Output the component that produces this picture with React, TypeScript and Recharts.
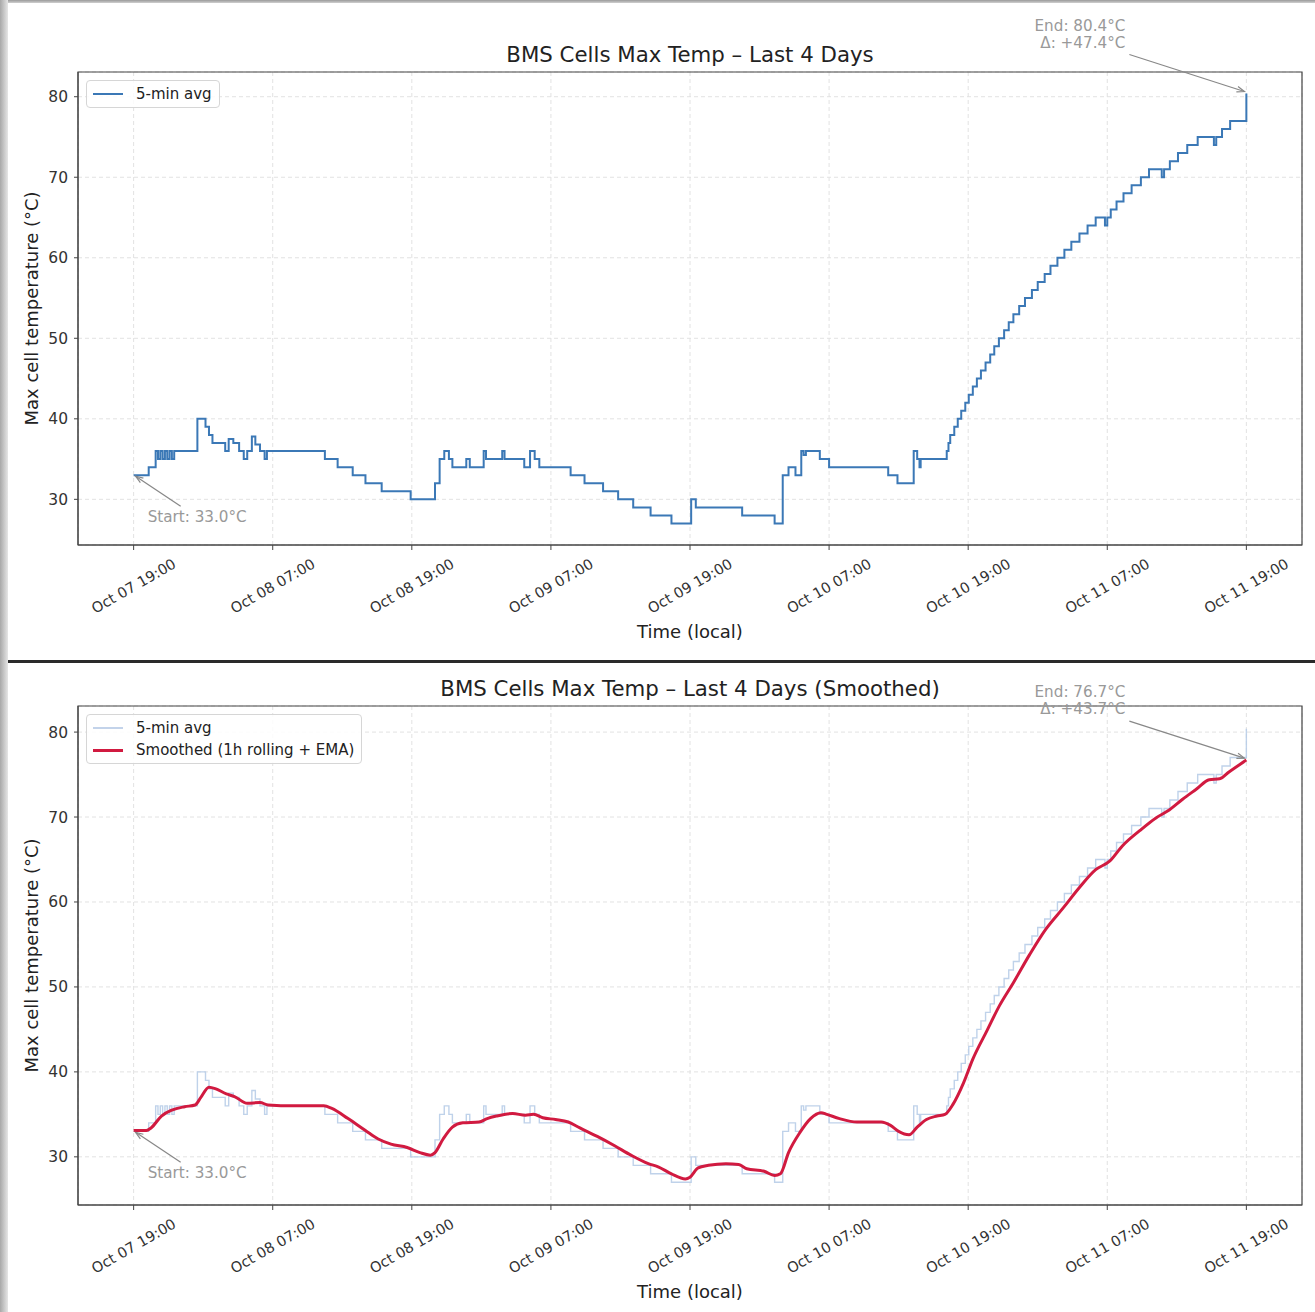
import React from 'react';
import { LineChart, Line, XAxis, YAxis, CartesianGrid, ReferenceArea, ReferenceDot, Legend, Label } from 'recharts';

// hours since Oct 07 19:00, 5-min avg (step change points)
const rawHours = [
  0, 1.3, 1.9, 2.1, 2.3, 2.5, 2.7, 2.9, 3.1, 3.3, 3.5, 5.5, 6.2, 6.5, 6.8, 7.9, 8.2, 8.6, 9.1, 9.5, 9.8, 10.2, 10.5, 10.9, 11.3, 11.5,
  16.5, 17.6, 18.9, 20.0, 21.4, 23.9, 26.0, 26.4, 26.8, 27.2, 27.5, 28.7, 29.0, 30.2, 30.4, 31.8, 32.0, 33.7, 34.2, 34.6, 35.0,
  37.7, 38.9, 40.5, 41.8, 43.1, 44.6, 46.4, 48.1, 48.5, 52.5, 55.3, 56.0, 56.5, 57.1, 57.6, 57.8, 58.0, 59.2, 60.0, 65.1, 65.9,
  67.3, 67.6, 67.8, 67.9, 70.15, 70.3, 70.45, 70.8, 71.1, 71.4, 71.75, 72.05, 72.4, 72.75, 73.1, 73.5, 73.9, 74.25, 74.65, 75.1,
  75.5, 75.9, 76.4, 76.9, 77.5, 78.0, 78.6, 79.1, 79.7, 80.3, 80.9, 81.6, 82.3, 83.0, 83.8, 84.0, 84.3, 84.8, 85.4, 86.1, 86.9,
  87.6, 88.7, 88.9, 89.4, 90.1, 90.9, 91.8, 93.2, 93.4, 93.9, 94.6, 96.0,
];
const rawTemps = [
  33, 34, 36, 35, 36, 35, 36, 35, 36, 35, 36, 40, 39, 38, 37, 36, 37.5, 37, 36, 35, 36, 37.8, 36.8, 36, 35, 36,
  35, 34, 33, 32, 31, 30, 32, 35, 36, 35, 34, 35, 34, 36, 35, 36, 35, 34, 36, 35, 34,
  33, 32, 31, 30, 29, 28, 27, 30, 29, 28, 27, 33, 34, 33, 36, 35.5, 36, 35, 34, 33, 32,
  36, 35, 34, 35, 36, 37, 38, 39, 40, 41, 42, 43, 44, 45, 46, 47, 48, 49, 50, 51,
  52, 53, 54, 55, 56, 57, 58, 59, 60, 61, 62, 63, 64, 65, 64, 65, 66, 67, 68, 69, 70,
  71, 70, 71, 72, 73, 74, 75, 74, 75, 76, 77, 80.4,
];

// smoothed (1h rolling + EMA)
const smoothHours = [
  0, 1.1, 1.5, 2.4, 3.3, 4.4, 5.3, 5.8, 6.5, 7.1, 8.0, 8.7, 9.8, 10.9, 11.6, 13.8, 16.4, 17.1, 18.5, 20.0, 21.1, 22.2, 23.6,
  24.7, 25.6, 26.0, 26.7, 27.5, 28.4, 29.8, 30.5, 31.3, 32.7, 33.8, 34.5, 35.3, 36.4, 37.5, 38.5, 40.0, 41.5, 42.9, 44.4, 45.3,
  46.4, 47.6, 48.0, 48.7, 49.6, 51.1, 52.2, 52.9, 54.4, 55.3, 55.8, 56.5, 57.5, 58.4, 59.3, 59.8, 60.9, 62.4, 64.5, 65.3, 66.0,
  66.9, 67.6, 68.4, 69.3, 70.0, 70.7, 71.6, 72.4, 73.6, 74.7, 75.9, 77.3, 78.7, 80.2, 81.6, 83.0, 84.2, 85.3, 86.8, 88.2, 89.2,
  90.5, 91.7, 92.8, 93.7, 94.5, 96.0,
];
const smoothTemps = [
  33.1, 33.1, 33.4, 34.8, 35.5, 35.9, 36.1, 37.0, 38.2, 38.0, 37.4, 37.1, 36.3, 36.4, 36.1, 36.0, 36.0, 35.7, 34.5, 33.1, 32.1, 31.5, 31.1,
  30.5, 30.2, 30.5, 32.1, 33.5, 34.0, 34.1, 34.5, 34.8, 35.1, 34.9, 35.0, 34.6, 34.4, 34.1, 33.4, 32.4, 31.3, 30.2, 29.2, 28.8,
  28.0, 27.4, 27.6, 28.7, 29.0, 29.2, 29.1, 28.6, 28.3, 27.8, 28.0, 30.5, 32.9, 34.5, 35.2, 35.0, 34.5, 34.1, 34.1, 33.7, 33.0,
  32.6, 33.5, 34.4, 34.8, 35.0, 36.2, 38.7, 41.5, 44.8, 47.8, 50.5, 53.8, 56.8, 59.3, 61.7, 63.8, 64.8, 66.6, 68.4, 69.9, 70.7,
  72.1, 73.3, 74.4, 74.5, 75.3, 76.7,
];

const tickHours = [0, 12, 24, 36, 48, 60, 72, 84, 96];
const tickLabels = ['Oct 07 19:00', 'Oct 08 07:00', 'Oct 08 19:00', 'Oct 09 07:00', 'Oct 09 19:00', 'Oct 10 07:00', 'Oct 10 19:00', 'Oct 11 07:00', 'Oct 11 19:00'];
const yTicks = [30, 40, 50, 60, 70, 80];

const X_DOMAIN: [number, number] = [-4.8, 100.8];
const Y_DOMAIN: [number, number] = [24.33, 83.07];
const FONT = '"DejaVu Sans", Verdana, sans-serif';

const rawData = rawHours.map((h, i) => ({ h, t: rawTemps[i] }));
const smoothData = smoothHours.map((h, i) => ({ h, t: smoothTemps[i] }));
const startTemp = rawTemps[0];

const TimeTick = (props: any) => {
  const { x, y, payload } = props;
  const label = tickLabels[tickHours.indexOf(payload.value)];
  return (
    <g transform={`translate(${x},${y + 33})`}>
      <text transform="rotate(-30)" textAnchor="middle" dy="0.35em" fontSize={14.5} fill="#333" fontFamily={FONT}>
        {label}
      </text>
    </g>
  );
};

const Arrow = ({ x1, y1, x2, y2 }: { x1: number; y1: number; x2: number; y2: number }) => {
  const a = Math.atan2(y2 - y1, x2 - x1);
  const L = 8;
  const p1 = `${x2 - L * Math.cos(a - 0.35)},${y2 - L * Math.sin(a - 0.35)}`;
  const p2 = `${x2 - L * Math.cos(a + 0.35)},${y2 - L * Math.sin(a + 0.35)}`;
  return (
    <g>
      <line x1={x1} y1={y1} x2={x2} y2={y2} stroke="#888" strokeWidth={1.2} />
      <polyline points={`${p1} ${x2},${y2} ${p2}`} fill="none" stroke="#888" strokeWidth={1.2} />
    </g>
  );
};

const startNote = (props: any) => {
  const { cx, cy } = props;
  return (
    <g>
      <Arrow x1={cx + 47} y1={cy + 31} x2={cx + 2} y2={cy + 1} />
      <text x={cx + 14} y={cy + 41} dy="0.35em" fontSize={15.2} fill="#999" fontFamily={FONT}>
        Start: {startTemp.toFixed(1)}°C
      </text>
    </g>
  );
};

const makeEndNote = (value: number) => (props: any) => {
  const { cx, cy } = props;
  const delta = value - startTemp;
  return (
    <g>
      <Arrow x1={cx - 117} y1={cy - 39} x2={cx - 2} y2={cy - 2} />
      <text x={cx - 121} y={cy - 68} dy="0.35em" textAnchor="end" fontSize={15.2} fill="#999" fontFamily={FONT}>
        End: {value.toFixed(1)}°C
      </text>
      <text x={cx - 121} y={cy - 51} dy="0.35em" textAnchor="end" fontSize={15.2} fill="#999" fontFamily={FONT}>
        Δ: +{delta.toFixed(1)}°C
      </text>
    </g>
  );
};

const yLabel = (props: any) => {
  const { viewBox } = props;
  const cx = viewBox.x + 32;
  const cy = viewBox.y + viewBox.height / 2;
  return (
    <text x={cx} y={cy} transform={`rotate(-90 ${cx} ${cy})`} textAnchor="middle" dy="0.35em" fontSize={18} fill="#222" fontFamily={FONT}>
      Max cell temperature (°C)
    </text>
  );
};

const xLabel = (props: any) => {
  const { viewBox } = props;
  const cx = viewBox.x + viewBox.width / 2;
  return (
    <text x={cx} y={viewBox.y + 87} textAnchor="middle" dy="0.35em" fontSize={18} fill="#222" fontFamily={FONT}>
      Time (local)
    </text>
  );
};

interface LegendItem {
  name: string;
  color: string;
  width: number;
}

const LegendBox = ({ items }: { items: LegendItem[] }) => (
  <div
    style={{
      border: '1px solid #d6d6d6',
      borderRadius: 4,
      background: 'rgba(255,255,255,0.85)',
      padding: '2px 7px 2px 6px',
      fontFamily: FONT,
      fontSize: 15,
      color: '#222',
    }}
  >
    {items.map(it => (
      <div key={it.name} style={{ display: 'flex', alignItems: 'center', height: 22 }}>
        <div style={{ width: 30, height: it.width, background: it.color, marginRight: 13 }} />
        <span style={{ whiteSpace: 'nowrap' }}>{it.name}</span>
      </div>
    ))}
  </div>
);

interface PanelProps {
  title: string;
  height: number;
  plotTop: number;
  xAxisHeight: number;
  smoothed: boolean;
}

const Panel = ({ title, height, plotTop, xAxisHeight, smoothed }: PanelProps) => {
  const endValue = smoothed ? smoothTemps[smoothTemps.length - 1] : rawTemps[rawTemps.length - 1];
  const legendItems: LegendItem[] = smoothed
    ? [
        { name: '5-min avg', color: '#c3d3ea', width: 2 },
        { name: 'Smoothed (1h rolling + EMA)', color: '#D11A40', width: 3 },
      ]
    : [{ name: '5-min avg', color: '#3B78B6', width: 2 }];

  return (
    <div style={{ position: 'relative', width: 1315, height }}>
      <div
        style={{
          position: 'absolute',
          left: 78,
          width: 1224,
          top: plotTop - 30,
          height: 26,
          lineHeight: '26px',
          textAlign: 'center',
          fontFamily: FONT,
          fontSize: 21.3,
          color: '#222',
        }}
      >
        {title}
      </div>
      <LineChart width={1315} height={height} margin={{ top: plotTop, right: 13, bottom: 0, left: 0 }}>
        <CartesianGrid stroke="#e2e2e2" strokeDasharray="4 3" />
        <XAxis
          dataKey="h"
          type="number"
          domain={X_DOMAIN}
          ticks={tickHours}
          allowDataOverflow
          height={xAxisHeight}
          tick={<TimeTick />}
          tickSize={5}
          tickMargin={3}
          stroke="#444"
        >
          <Label content={xLabel} />
        </XAxis>
        <YAxis
          type="number"
          domain={Y_DOMAIN}
          ticks={yTicks}
          allowDataOverflow
          width={78}
          tickSize={4}
          tickMargin={6}
          stroke="#444"
          tick={{ fontSize: 15.5, fill: '#333', fontFamily: FONT }}
        >
          <Label content={yLabel} />
        </YAxis>
        <ReferenceArea x1={X_DOMAIN[0]} x2={X_DOMAIN[1]} y1={Y_DOMAIN[0]} y2={Y_DOMAIN[1]} fill="none" stroke="#444" strokeWidth={1.2} />
        <Legend
          verticalAlign="middle"
          layout="horizontal"
          wrapperStyle={{ top: plotTop + 8, left: 86, width: 'auto' }}
          content={() => <LegendBox items={legendItems} />}
        />
        <Line
          data={rawData}
          dataKey="t"
          type="stepAfter"
          stroke={smoothed ? '#b4cae6' : '#3B78B6'}
          strokeWidth={smoothed ? 1.4 : 2}
          strokeOpacity={smoothed ? 0.85 : 1}
          dot={false}
          isAnimationActive={false}
        />
        {smoothed && (
          <Line
            data={smoothData}
            dataKey="t"
            type="monotone"
            stroke="#D11A40"
            strokeWidth={3}
            dot={false}
            isAnimationActive={false}
          />
        )}
        <ReferenceDot x={0} y={startTemp} r={0} ifOverflow="visible" shape={startNote} />
        <ReferenceDot x={96} y={endValue} r={0} ifOverflow="visible" shape={makeEndNote(endValue)} />
      </LineChart>
    </div>
  );
};

export default function App() {
  return (
    <div style={{ position: 'absolute', left: 0, top: 0, width: 1315, height: 1312, background: '#fff', overflow: 'hidden' }}>
      <div style={{ position: 'absolute', left: 0, top: 0, width: 1315, height: 660 }}>
        <Panel title="BMS Cells Max Temp – Last 4 Days" height={660} plotTop={72} xAxisHeight={115} smoothed={false} />
      </div>
      <div style={{ position: 'absolute', left: 0, top: 663, width: 1315, height: 649 }}>
        <Panel title="BMS Cells Max Temp – Last 4 Days (Smoothed)" height={649} plotTop={43} xAxisHeight={107} smoothed />
      </div>
      <div style={{ position: 'absolute', left: 0, top: 660, width: 1315, height: 3, background: '#2a2a2a' }} />
      <div style={{ position: 'absolute', left: 0, top: 0, width: 1315, height: 3, background: 'linear-gradient(#9a9a9a, #d0d0d0)' }} />
      <div style={{ position: 'absolute', left: 0, top: 0, width: 8, height: 1312, background: 'linear-gradient(90deg, #a8a8a8, #e6e6e6)' }} />
    </div>
  );
}
